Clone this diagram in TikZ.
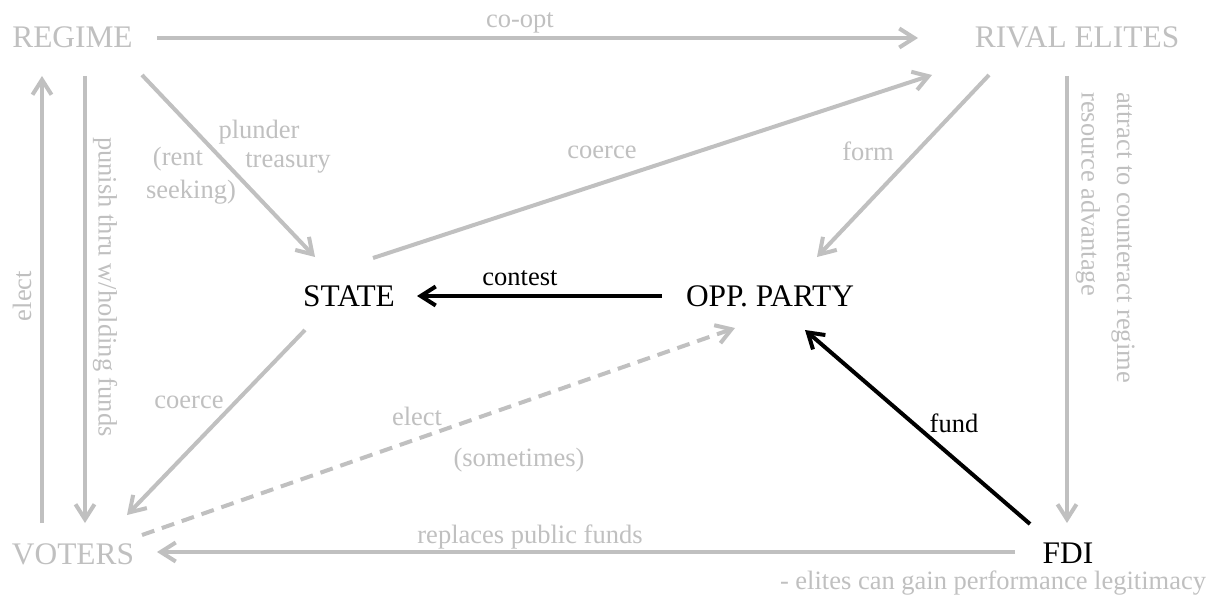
\documentclass[tikz,border=0pt]{standalone}
\usepackage{fontspec}
\setmainfont{Liberation Serif}
\usetikzlibrary{arrows.meta,calc}
\definecolor{lg}{RGB}{192,192,192}
\begin{document}
\begin{tikzpicture}[x=1pt,y=-1pt,
  ntext/.style={inner sep=0pt, font=\fontsize{31.4}{36}\selectfont},
  gnode/.style={ntext, text=lg},
  lab/.style={inner sep=0pt, font=\fontsize{26.5}{30}\selectfont, text=lg},
  blab/.style={inner sep=0pt, font=\fontsize{26.5}{30}\selectfont, text=black},
  tipb/.tip={Straight Barb[length=15pt,width=19pt]},
  gl/.style={draw=lg, line width=4pt},
  garr/.style={gl, -{tipb}},
  gdash/.style={gl, dash pattern=on 13pt off 8pt, -{tipb[sep=0pt]}},
  barr/.style={draw=black, line width=4pt, -{tipb}},
]
\useasboundingbox[fill=white] (0,0) rectangle (1212,604);

% nodes
\node[gnode] (regime) at (72.5,37.5) {REGIME};
\node[gnode] (rival) at (1077,37.5) {RIVAL ELITES};
\node[ntext] (state) at (349,296) {STATE};
\node[ntext] (opp) at (770,296) {OPP. PARTY};
\node[gnode] (voters) at (73,554) {VOTERS};
\node[ntext] (fdi) at (1068,553) {FDI};

% connectors
\draw[garr] ($(regime)+(84.5,0.5)$) -- ($(rival)+(-159,0.5)$);
\draw[garr] ($(regime)+(69.5,37.5)$) -- ($(state)+(-34,-39)$);
\draw[garr] ($(regime)+(12.5,38.5)$) -- ($(voters)+(12,-31)$);
\draw[garr] ($(voters)+(-31,-31)$) -- ($(regime)+(-30.5,38.5)$);
\draw[garr] ($(state)+(24,-38)$) -- ($(rival)+(-145,37.5)$);
\draw[garr] ($(rival)+(-88,37.5)$) -- ($(opp)+(47,-39)$);
\draw[garr] ($(rival)+(-10,38.5)$) -- ($(fdi)+(-1,-30)$);
\draw[barr] ($(opp)+(-108,0)$) -- ($(state)+(68,0)$);
\draw[garr] ($(state)+(-44,34)$) -- ($(voters)+(54,-39)$);
\draw[gdash] ($(voters)+(69,-19)$) -- ($(opp)+(-35,32)$);
\draw[barr] ($(fdi)+(-38,-29)$) -- ($(opp)+(35,34)$);
\draw[garr] ($(fdi)+(-53,-1)$) -- ($(voters)+(84,-2)$);

% labels
\node[lab] (lcoopt) at (520,23) {co-opt};
\node[lab] (lplunder) at (259,132) {plunder};
\node[lab] (ltreasury) at (288,163) {treasury};
\node[lab] (lrent) at (178,159) {(rent};
\node[lab] (lseeking) at (191,192) {seeking)};
\node[lab] (lcoerce1) at (602,152) {coerce};
\node[lab] (lform) at (868,151) {form};
\node[blab] (lcontest) at (520,278) {contest};
\node[lab] (lcoerce2) at (189,402) {coerce};
\node[lab] (lelect2) at (417,416) {elect};
\node[lab] (lsometimes) at (519,460) {(sometimes)};
\node[blab] (lfund) at (954,423) {fund};
\node[lab] (lreplaces) at (530,537) {replaces public funds};
\node[lab, rotate=-90] (lpunish) at (105,287) {punish thru w/holding funds};
\node[lab, rotate=90] (lelect1) at (22,296) {elect};
\node[lab, rotate=-90, anchor=west] (lattract) at (1123,92) {attract to counteract regime};
\node[lab, rotate=-90, anchor=west] (lresource) at (1088,92) {resource advantage};
\node[lab] (lelites) at (993,583) {- elites can gain performance legitimacy};
\end{tikzpicture}
\end{document}
